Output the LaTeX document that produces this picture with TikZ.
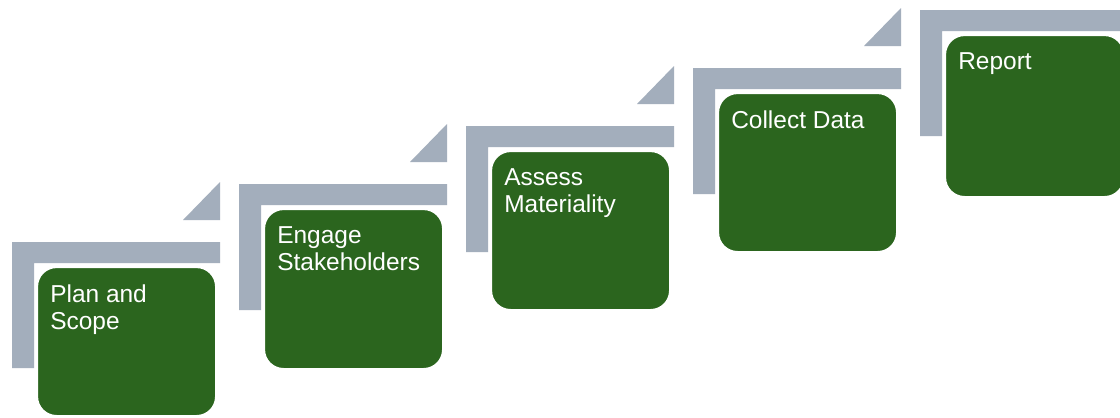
\documentclass[tikz,border=0pt]{standalone}
\usepackage{fontspec}
\setmainfont{Liberation Sans}
\definecolor{boxgreen}{RGB}{43,101,30}
\definecolor{bargrey}{RGB}{163,174,188}
\tikzset{
  greenbox/.style={draw=white, line width=2.2pt, fill=boxgreen, rounded corners=0.5cm,
    minimum width=4.5cm, inner sep=0pt, anchor=north west},
  steptext/.style={text=white, align=left, inner sep=0pt, anchor=north west,
    font=\fontsize{17.4}{19.4}\selectfont},
  greybar/.style={fill=bargrey}
}
\begin{document}
\begin{tikzpicture}[x=0.025cm,y=-0.025cm]
\useasboundingbox (0,0) rectangle (1120,417);
\clip (0,0) rectangle (1120,417);
\fill[white] (0,0) rectangle (1120,417);
\foreach \i/\txt/\h in {1/{Plan and\\Scope}/150, 2/{Engage\\Stakeholders}/161, 3/{Assess\\Materiality}/160, 4/{Collect Data}/160, 5/{Report}/163} {
  \pgfmathsetmacro\gx{35+227*(\i-1)}
  \pgfmathsetmacro\gy{265-58*(\i-1)}
  \pgfmathsetmacro\hh{\h*0.025}
  \fill[greybar] (\gx-23,\gy-23) -- (\gx+185,\gy-23) -- (\gx+185,\gy-2)
     -- (\gx-1,\gy-2) -- (\gx-1,\gy+103) -- (\gx-23,\gy+103) -- cycle;
  \fill[greybar] (\gx+185,\gy-83) -- (\gx+185,\gy-45) -- (\gx+148,\gy-45) -- cycle;
  \node[greenbox, minimum height=\hh cm] (box\i) at (\gx,\gy) {};
  \node[steptext] (txt\i) at (\gx+15,\gy+19) {\txt};
}
\end{tikzpicture}
\end{document}
